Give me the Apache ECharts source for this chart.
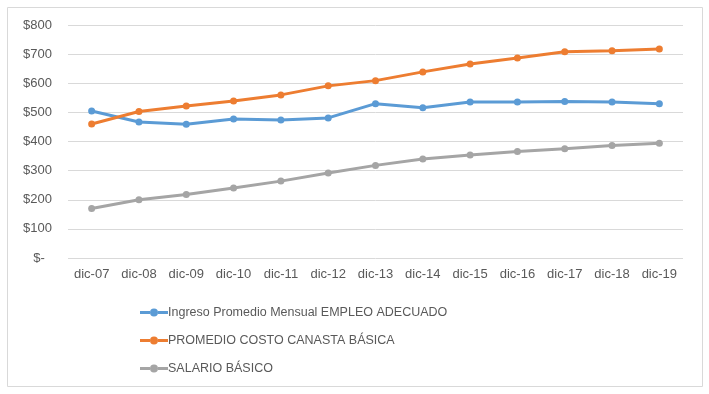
<!DOCTYPE html>
<html><head><meta charset="utf-8">
<script src="https://cdn.jsdelivr.net/npm/echarts@6/dist/echarts.min.js"></script>
<style>html,body{margin:0;padding:0;background:#fff}#c{width:709px;height:394px}</style>
</head><body><div id="c"></div>
<script>
var categories = ['dic-07','dic-08','dic-09','dic-10','dic-11','dic-12','dic-13','dic-14','dic-15','dic-16','dic-17','dic-18','dic-19'];
var ingreso = [505,467,459,477,474,481,530,516,536,536,537,536,530];
var canasta = [460,503,522,539,560,591,609,639,666,687,708,712,718];
var salario = [170,200,218,240,264,292,318,340,354,366,375,386,394];
var names = ['Ingreso Promedio Mensual EMPLEO ADECUADO','PROMEDIO COSTO CANASTA BÁSICA','SALARIO BÁSICO'];
var colors = ['#5b9bd5','#ed7d31','#a5a5a5'];
var font = '"Liberation Sans Narrow", "Liberation Sans", sans-serif';
var chart = echarts.init(document.getElementById('c'));
function mk(name, data, color){
  return {name:name,type:'line',data:data,symbol:'circle',symbolSize:7,
    lineStyle:{width:3,color:color},itemStyle:{color:color},animation:false};
}
var icon = 'path://M0,2.5h10v3h-10zM10,4a4,4 0 1,0 8,0a4,4 0 1,0 -8,0zM18,2.5h10v3h-10z';
chart.setOption({
  animation:false,
  textStyle:{fontFamily:font},
  graphic:[{type:'rect',shape:{x:7.5,y:7.5,width:695,height:379},style:{fill:'none',stroke:'#d9d9d9',lineWidth:1}}],
  grid:{left:68,right:26,top:25,bottom:136},
  xAxis:{type:'category',data:categories,boundaryGap:true,
    axisLine:{show:false},axisTick:{show:false},
    axisLabel:{color:'#595959',fontSize:13,fontFamily:font,margin:10}},
  yAxis:{type:'value',min:0,max:800,interval:100,
    axisLine:{show:false},axisTick:{show:false},
    splitLine:{lineStyle:{color:'#d9d9d9',width:1}},
    axisLabel:{color:'#595959',fontSize:13,fontFamily:font,margin:16,
      formatter:function(v){return v===0?'$-  ':'$'+v;}}},
  legend:{orient:'vertical',left:135,top:301,itemGap:15,itemWidth:28,itemHeight:8,
    textStyle:{color:'#595959',fontSize:12.5,fontFamily:font,padding:[0,0,0,-5]},
    data:names.map(function(n,i){return {name:n,icon:icon};})},
  series:[mk(names[0],ingreso,colors[0]),mk(names[1],canasta,colors[1]),mk(names[2],salario,colors[2])]
});
</script></body></html>
